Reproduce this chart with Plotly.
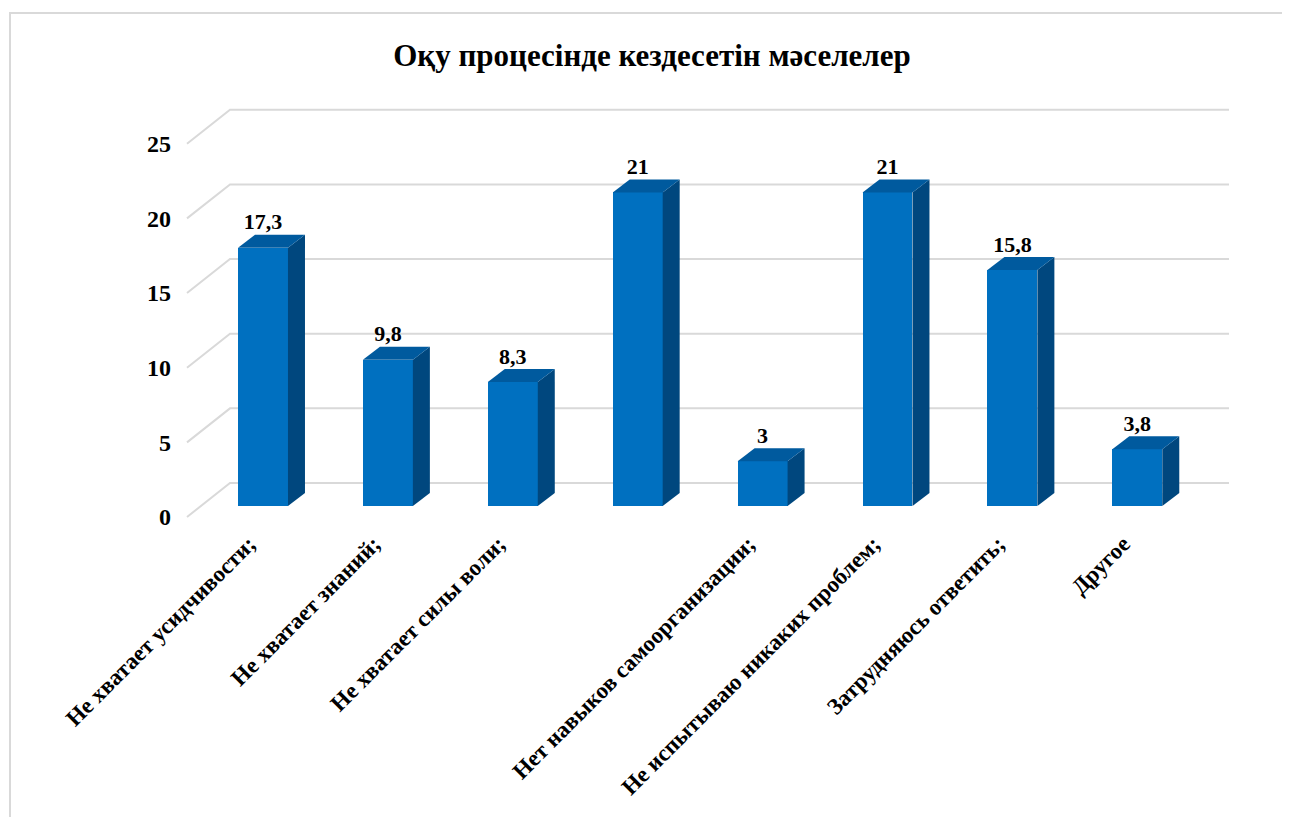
import plotly.graph_objects as go

categories = ["Не хватает усидчивости;", "Не хватает знаний;", "Не хватает силы воли;",
              "", "Нет навыков самоорганизации;", "Не испытываю никаких проблем;",
              "Затрудняюсь ответить;", "Другое"]
values = [17.3, 9.8, 8.3, 21, 3, 21, 15.8, 3.8]
value_labels = ["17,3", "9,8", "8,3", "21", "3", "21", "15,8", "3,8"]
y_ticks = [0, 5, 10, 15, 20, 25]
title_text = "Оқу процесінде кездесетін мәселелер"

OFF = 8                      # page body margin of the html page
W, H = 1290 - 2 * OFF, 825 - 2 * OFF

def P(p):
    return p - OFF

L, R, T, B = P(172), P(1240), P(100), P(525)
X0PX, XSTEP = P(263.0), 124.9
Y0PX, YSTEP = P(506.0), 14.93

def px2x(p):
    return (P(p) - X0PX) / XSTEP

def px2y(p):
    return (Y0PX - P(p)) / YSTEP

xr = [(L - X0PX) / XSTEP, (R - X0PX) / XSTEP]
yr = [(Y0PX - B) / YSTEP, (Y0PX - T) / YSTEP]

bw = 0.4
ddx = 17 / XSTEP
ddy = 13 / YSTEP
front_shift = px2y(517)
back_shift = px2y(483)
gx_front, gx_back, gx_right = px2x(187), px2x(230), px2x(1229)

FRONT = "#0070C0"
TOP = "#005A9E"
SIDE = "#00477E"
GRID = "#D9D9D9"
FONT = "'Liberation Serif', 'Times New Roman', Times, serif"

fig = go.Figure()

shapes = []
for v in y_ticks:
    shapes.append(dict(type="path", xref="x", yref="y", layer="below",
                       path=f"M {gx_front},{v + front_shift} L {gx_back},{v + back_shift} L {gx_right},{v + back_shift}",
                       line=dict(color=GRID, width=2)))
shapes.append(dict(type="rect", xref="paper", yref="paper", layer="below",
                   x0=(P(10) - L) / (R - L), x1=(P(1320) - L) / (R - L),
                   y0=(B - P(860)) / (B - T), y1=(B - P(13)) / (B - T),
                   line=dict(color="#D9D9D9", width=2), fillcolor="rgba(0,0,0,0)"))

fig.add_trace(go.Bar(x=list(range(len(values))), y=values, width=bw,
                     marker=dict(color=FRONT, line=dict(width=0)), showlegend=False))

for i, v in enumerate(values):
    xl, xrr = i - bw / 2, i + bw / 2
    fig.add_trace(go.Scatter(
        x=[xrr, xrr + ddx, xrr + ddx, xrr, xrr],
        y=[0, ddy, v + ddy, v, 0],
        fill="toself", fillcolor=SIDE, mode="lines", line=dict(width=0, color=SIDE),
        hoverinfo="skip", showlegend=False))
    fig.add_trace(go.Scatter(
        x=[xl, xl + ddx, xrr + ddx, xrr, xl],
        y=[v, v + ddy, v + ddy, v, v],
        fill="toself", fillcolor=TOP, mode="lines", line=dict(width=0, color=TOP),
        hoverinfo="skip", showlegend=False))

fig.add_trace(go.Scatter(
    x=list(range(len(values))), y=[v + ddy for v in values],
    mode="text", text=value_labels, textposition="top center",
    textfont=dict(family=FONT, size=22, color="black", weight="bold"),
    hoverinfo="skip", showlegend=False))

fig.update_layout(
    width=W, height=H,
    margin=dict(l=L, r=W - R, t=T, b=H - B, autoexpand=False),
    paper_bgcolor="white", plot_bgcolor="rgba(0,0,0,0)",
    title=dict(text=title_text, x=P(652) / W, xanchor="center",
               y=1 - P(55) / H, yanchor="middle", yref="container",
               font=dict(family=FONT, size=31, color="black", weight="bold")),
    xaxis=dict(range=xr, tickvals=list(range(len(categories))), ticktext=categories,
               tickangle=-45, showgrid=False, zeroline=False, showline=False,
               ticklabelshift=-14,
               tickfont=dict(family=FONT, size=23, color="black", weight="bold")),
    yaxis=dict(range=yr, tickvals=[v + front_shift for v in y_ticks],
               ticktext=[str(v) for v in y_ticks], showgrid=False, zeroline=False,
               showline=False,
               tickfont=dict(family=FONT, size=24, color="black", weight="bold")),
    bargap=0,
    shapes=shapes,
)

fig.write_html("out.html")
